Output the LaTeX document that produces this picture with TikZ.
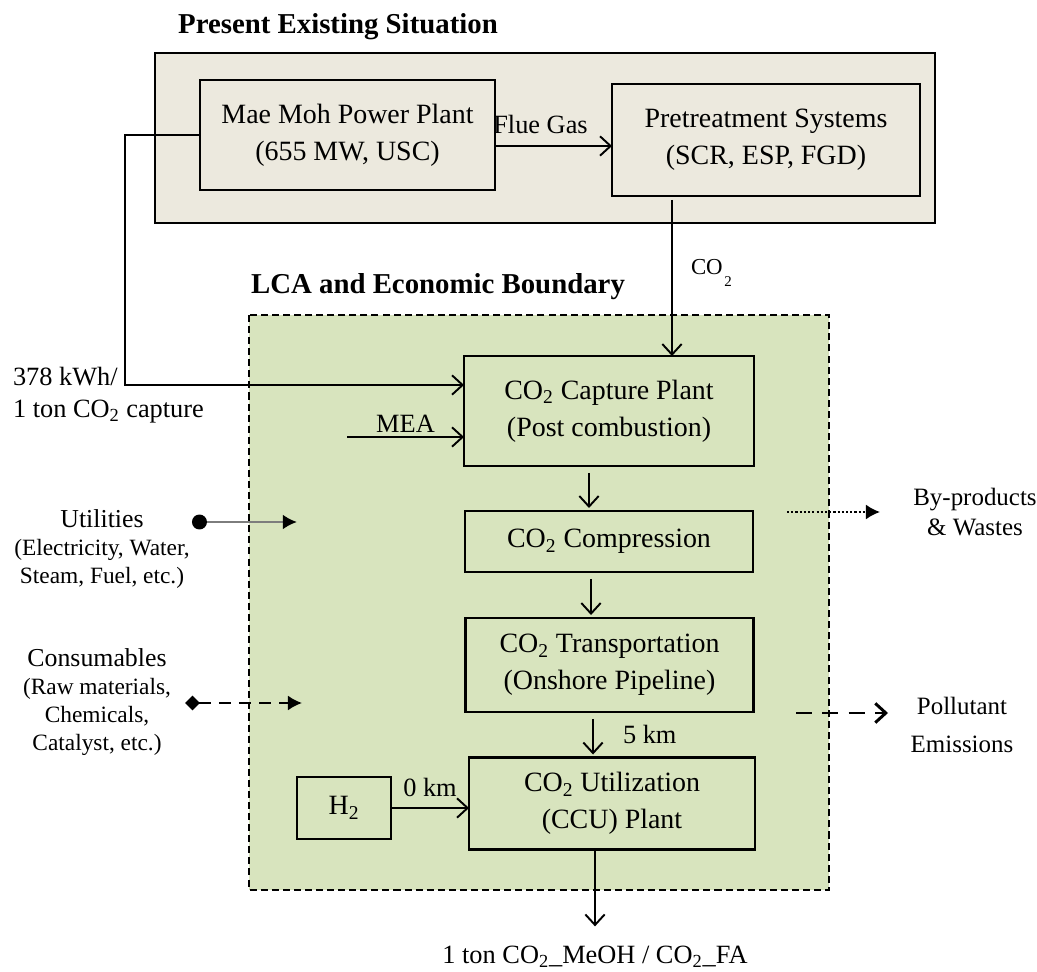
\documentclass[tikz,border=0pt]{standalone}
\usepackage{fontspec}
\setmainfont{Liberation Serif}
\usetikzlibrary{arrows.meta}

\definecolor{cctext}{RGB}{0,0,0}
\definecolor{ccbeige}{RGB}{236,233,222}
\definecolor{ccgreen}{RGB}{216,228,190}
\definecolor{ccgray}{RGB}{125,125,125}

\begin{document}
\begin{tikzpicture}[
  x=0.02cm,
  y=-0.02cm,
  >={Straight Barb[length=6pt,width=11pt]},
  every node/.style={inner sep=0pt, outer sep=0pt, text=cctext},
  ccTitle/.style={font=\bfseries\fontsize{16.4}{18}\selectfont},
  ccLabel/.style={font=\fontsize{15}{18.5}\selectfont},
  ccSide/.style={font=\fontsize{13.3}{16}\selectfont, align=center},
  ccHead/.style={font=\fontsize{14.2}{17.6}\selectfont, align=center},
  ccBox/.style={draw, line width=1.5pt, font=\fontsize{15.9}{21}\selectfont, align=center},
  ccFrame/.style={draw, fill=ccbeige, line width=1.5pt},
  ccBound/.style={draw, fill=ccgreen, line width=1.2pt, dash pattern=on 4pt off 2.3pt},
  ccMain/.style={draw, line width=1.1pt, ->},
  ccStep/.style={ccMain, shorten <=0.14cm, shorten >=0.06cm},
  ccFeed/.style={draw=ccgray, line width=1.6pt, arrows={Circle[length=8.5pt,black]-Latex[length=8pt,width=8.5pt,black]}},
  ccSupply/.style={draw, line width=1.1pt, dash pattern=on 7pt off 4.5pt, arrows={Turned Square[length=8.5pt,width=8.5pt]-Latex[length=8pt,width=8.5pt]}},
  ccWaste/.style={draw, line width=1.1pt, dash pattern=on 1.2pt off 1.2pt, -{Latex[length=8pt,width=8.5pt]}},
  ccEmit/.style={draw, line width=1.7pt, dash pattern=on 9pt off 6pt, ->}
]

  \path[use as bounding box] (0,0) rectangle (1037,972);

  % Present situation
  \node[ccTitle] (titleTop) at (338,27) {Present Existing Situation};
  \draw[ccFrame] (155,53) rectangle (935,223);

  \node[ccBox, minimum width=5.9cm, minimum height=2.2cm] (plant) at (347.5,135) {Mae Moh Power Plant\\(655 MW, USC)};
  \node[ccBox, minimum width=6.16cm, minimum height=2.24cm] (pretreat) at (766,140) {Pretreatment Systems\\(SCR, ESP, FGD)};

  \draw[ccMain] ([yshift=-0.22cm]plant.east) -- ([yshift=-0.12cm]pretreat.west)
    node[ccLabel, midway, above=0.24cm, xshift=-0.26cm] {Flue Gas};

  % LCA boundary
  \node[ccTitle] (titleLca) at (438,287) {LCA and Economic Boundary};
  \draw[ccBound] (249,315) rectangle (829,890);

  \node[ccBox, minimum width=5.8cm, minimum height=2.2cm] (capture) at (609,411) {CO\textsubscript{2} Capture Plant\\(Post combustion)};
  \node[ccBox, minimum width=5.76cm, minimum height=1.22cm] (compress) at (609,541.5) {CO\textsubscript{2} Compression};
  \node[ccBox, minimum width=5.76cm, minimum height=1.88cm] (transport) at (609.5,665) {CO\textsubscript{2} Transportation\\(Onshore Pipeline)};
  \node[ccBox, minimum width=5.72cm, minimum height=1.84cm] (utilize) at (612,803.5) {CO\textsubscript{2} Utilization\\(CCU) Plant};
  \node[ccBox, minimum width=1.88cm, minimum height=1.24cm] (h2) at (344,808) {H\textsubscript{2}};

  % flue CO2 into capture
  \coordinate (co2in) at ([xshift=1.26cm]capture.north);
  \draw[ccMain, shorten <=0.08cm] (pretreat.south -| co2in) -- (co2in);
  \node[font=\fontsize{13}{13}\selectfont, anchor=base west] (co2lab) at (691,275) {CO\kern1pt\raisebox{-6.8pt}{\fontsize{8.5}{9}\selectfont 2}};

  % electricity for capture
  \coordinate (kwhBend) at (125,385);
  \draw[ccMain] (plant.west) -| (kwhBend) -- ([yshift=0.52cm]capture.west);
  \node[ccLabel, align=left, anchor=west] (kwh) at (13,395) {378 kWh/\\1 ton CO\textsubscript{2} capture};

  \coordinate (meaSrc) at (347,437);
  \draw[ccMain] (meaSrc) -- (meaSrc -| capture.west) node[ccLabel, midway, above=0.08cm] {MEA};

  % main chain
  \draw[ccStep] ([xshift=-0.4cm]capture.south) -- ([xshift=-0.4cm]capture.south |- compress.north);
  \draw[ccStep] ([xshift=-0.36cm]compress.south) -- ([xshift=-0.36cm]compress.south |- transport.north);
  \draw[ccStep] ([xshift=-0.33cm]transport.south) -- ([xshift=-0.33cm]transport.south |- utilize.north)
    node[ccLabel, midway, right=0.6cm] {5 km};
  \draw[ccMain] (h2.east) -- (h2.east -| utilize.west) node[ccLabel, midway, above=0.22cm] {0 km};

  \node[ccLabel] (product) at (595,957) {1 ton CO\textsubscript{2}\_MeOH / CO\textsubscript{2}\_FA};
  \draw[ccMain, shorten >=0.4cm] ([xshift=-0.34cm]utilize.south) -- (product.north);

  % inputs
  \node[ccSide] (utilities) at (102,549) {{\fontsize{14.7}{16}\selectfont Utilities}\\(Electricity, Water,\\Steam, Fuel, etc.)};
  \coordinate (utilSrc) at (192,522);
  \coordinate (utilTip) at (297,522);
  \draw[ccFeed] (utilSrc) -- (utilTip);

  \node[ccSide] (consum) at (97,702) {{\fontsize{14.7}{16}\selectfont Consumables}\\(Raw materials,\\Chemicals,\\Catalyst, etc.)};
  \coordinate (consSrc) at (185,703);
  \coordinate (consTip) at (302,703);
  \draw[ccSupply] (consSrc) -- (consTip);

  % outputs
  \coordinate (bySrc) at (787,512);
  \coordinate (byTip) at (880,512);
  \draw[ccWaste] (bySrc) -- (byTip);
  \node[ccHead] (byprod) at (975,512) {By-products\\\& Wastes};

  \coordinate (polSrc) at (796,713);
  \coordinate (polTip) at (888,713);
  \draw[ccEmit] (polSrc) -- (polTip);
  \node[ccHead, font=\fontsize{14.2}{21.5}\selectfont] (pollut) at (962,725) {Pollutant\\Emissions};

\end{tikzpicture}
\end{document}
